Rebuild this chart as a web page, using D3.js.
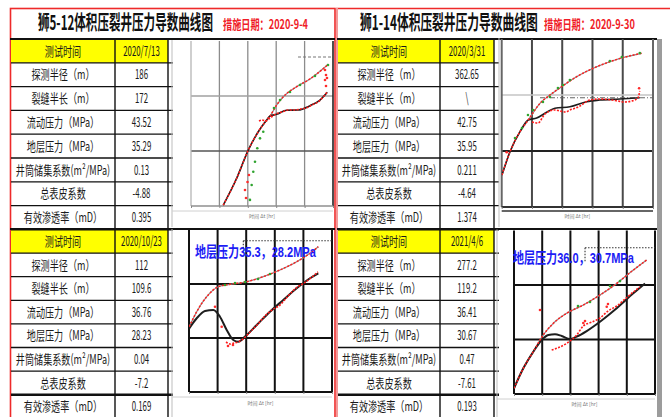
<!DOCTYPE html>
<html><head><meta charset="utf-8">
<script src="https://cdn.jsdelivr.net/npm/d3@7/dist/d3.min.js"></script>
<style>html,body{margin:0;padding:0;background:#fff}svg{display:block}</style>
</head><body>
<svg id="c" width="670" height="417"></svg>
<script>
// ---------------- DATA ----------------
const titles = ["狮5-12体积压裂井压力导数曲线图", "狮1-14体积压裂井压力导数曲线图"];
const measureDates = ["措施日期：2020-9-4", "措施日期：2020-9-30"];
const rowLabels = ["测试时间","探测半径（m）","裂缝半长（m）","流动压力（MPa）","地层压力（MPa）","井筒储集系数(m²/MPa)","总表皮系数","有效渗透率（mD）"];
const valuesTL = ["2020/7/13","186","172","43.52","35.29","0.13","-4.88","0.395"];
const valuesBL = ["2020/10/23","112","109.6","36.76","28.23","0.04","-7.2","0.169"];
const valuesTR = ["2020/3/31","362.65","\\","42.75","35.95","0.211","-4.64","1.374"];
const valuesBR = ["2021/4/6","277.2","119.2","36.41","30.67","0.47","-7.61","0.193"];
const pressureNotes = ["地层压力35.3，28.2MPa", "地层压力36.0，30.7MPa"];
const axisTitle = "时间 Δt [hr]";
const xDecades = [1,10,100,1000,10000,100000];
const yDecades = [1,10,100,1000];

// TL: 狮5-12, 2020/7/13
const tlPTime  = [13.7, 40.6, 104, 234, 462, 605, 1040, 1780, 5270, 15500, 68400];
const tlPModel = [1.04, 3.19, 10.4, 22.4, 36.6, 43.3, 68.6, 97, 148, 204, 377];
const tlDTime  = [13.7, 40.6, 104, 234, 462, 605, 1040, 2340, 6000, 15500, 34800, 63000];
const tlDModel = [1.04, 3.19, 10.4, 22.4, 36.6, 43.3, 46.5, 55, 55.6, 66.7, 84.5, 117];
const tlDDataT = [248, 316, 438, 605, 984, 1600, 2600, 4590, 6900, 11200, 18200, 29600, 48200, 61500];
const tlDData  = [35.1, 36.6, 35.1, 39.8, 47.1, 51.2, 55.6, 55.6, 58.1, 60.5, 68.6, 77.8, 100, 118];
const tlGreenT = [119, 137, 156, 179, 216, 269, 351, 837, 1360, 3060, 6900, 23200, 66700];
const tlGreen  = [1.29, 2.41, 4.2, 6.39, 11.2, 17.0, 22.4, 60.5, 84.6, 118, 158, 231, 366];
const tlRedT   = [79.7, 86.5, 97.6, 110, 52300, 56700, 52300, 56700, 61500];
const tlRed    = [1.95, 1.4, 2.73, 3.66, 297, 241, 195, 152, 212];
const tlLevel  = [5860, 512];

// TR: 狮1-14, 2020/3/31
const trPTime  = [1.02, 1.88, 4.02, 7.55, 18.4, 39.3, 95.5, 299, 1054, 3750, 13340, 41700];
const trPModel = [3.73, 9.72, 22.1, 35.8, 71.1, 100, 141, 212, 300, 393, 483, 556];
const trDTime  = [1.02, 1.88, 4.02, 7.55, 14.3, 30.5, 57.4, 179, 638, 1754, 8020, 36650];
const trDModel = [3.73, 9.72, 22.1, 35.8, 38.8, 49.1, 57.9, 61.8, 75.9, 81.4, 84.8, 89.5];
const trDDataT = [10, 15.8, 26.9, 57.4, 84, 132, 179, 283, 384, 820, 1754, 4365, 6890, 11720, 19950, 31500, 36650];
const trDData  = [32.9, 31.6, 45.8, 54, 51.8, 49.7, 54, 58.6, 63.6, 81.4, 84.8, 81.4, 78.1, 75, 78.1, 88.4, 118];
const trGreenT = [2.75, 4.68, 7.38, 10.8, 23.1, 39.3, 72.1, 105, 179, 3750, 9330, 36650];
const trGreen  = [17.1, 25.7, 43.9, 54, 75, 92.1, 133, 151, 185, 405, 477, 562];
const trRedT   = [1.46, 34750];
const trRed    = [9.48, 132];
const trLevel  = [18.4, 89.5];

// BL: 狮5-12, 2020/10/23
const blPTime  = [1.02, 1.86, 4.16, 10.6, 27.2, 104, 396, 1520, 5830, 17000, 33200];
const blPModel = [16.2, 30.7, 58.2, 89.1, 98.7, 110, 137, 182, 259, 370, 491];
const blDTime  = [1.02, 1.86, 3.63, 7.08, 12.1, 20.8, 35.4, 53, 90.8, 233, 679, 1980, 5830, 17000, 33200];
const blDModel = [15.1, 23.2, 31.6, 33, 24.8, 14.1, 9.18, 8.54, 10.6, 17.4, 30.7, 50.6, 83.2, 128, 158];
const blDDataT = [19.7, 27.2, 37.4, 51.7, 77.3, 136, 259, 454, 798, 1520, 2900, 5510, 10500, 20000, 32400];
const blDData  = [8.43, 7.74, 8.08, 8.43, 9.58, 12.9, 18.2, 25.6, 33, 40.8, 59.9, 84.3, 104, 135, 167];
const blGreenT = [18.1, 40.6, 90.8, 259, 679];
const blGreen  = [95.8, 104, 109, 124, 153];
const blRedT   = [8.11, 13.9, 23.1, 34.5];
const blRed    = [38, 16.2, 7.11, 7.42];
const blLevel  = [79.2, 634, 370];

// BR: 狮1-14, 2021/4/6
const brPTime  = [1.0, 2.14, 4.83, 10.9, 24.8, 73.9, 287, 1122, 4385, 17000, 50800];
const brPModel = [1.27, 2.96, 5.97, 12.1, 19.8, 30.3, 43, 65.6, 107, 188, 288];
const brDTime  = [1.0, 2.14, 4.83, 9.6, 16.5, 28.4, 49.1, 96.8, 167, 378, 1122, 4385, 17000, 44200];
const brDModel = [1.27, 2.96, 5.97, 9.79, 12.1, 12.5, 11.6, 10.2, 11.3, 14.3, 21.2, 37.4, 70.4, 107];
const brDDataT = [21.7, 37.2, 73.9, 167, 287, 583, 1122, 2150, 4385, 8630, 17000, 29400];
const brDData  = [6.42, 7.07, 8.51, 12.1, 17.7, 20.9, 24.8, 33.3, 41.2, 55.3, 74.4, 91.9];
const brGreenT = [186, 495, 2540, 5740];
const brGreen  = [41.2, 48.8, 95.9, 118];
const brRedT   = [8.36, 287, 330, 1940, 2150];
const brRed    = [34.8, 20.1, 21.9, 40, 44.8];
const brLevel  = [330, 483, 268];

// ---------------- DRAW ----------------
const svg = d3.select("#c");
const CJK = '"Noto Sans CJK SC","Noto Sans",sans-serif';
const zip = (a,b) => a.map((v,i)=>[v,b[i]]);

function ctext(g, x, y, t, k, size, opts={}) {
  return g.append("text")
    .attr("transform", `translate(${x},${y}) scale(${k},1)`)
    .attr("text-anchor","middle")
    .attr("font-family", CJK)
    .attr("font-size", size)
    .attr("font-weight", opts.bold ? "bold" : "normal")
    .attr("fill", opts.fill || "#1a1a1a")
    .text(t);
}
// left-anchored text squeezed horizontally to a target width
function fitText(g, x, y, t, width, size, fill, family) {
  const el = g.append("text").attr("x",0).attr("y",0)
    .attr("font-family", family || CJK).attr("font-size", size)
    .attr("font-weight","bold").attr("fill", fill).text(t);
  const nat = el.node().getComputedTextLength() || width;
  el.attr("transform", `translate(${x},${y}) scale(${width/nat},1)`);
  return el;
}

// Panel borders
svg.append("rect").attr("x",10.5).attr("y",8.5).attr("width",324.5).attr("height",420)
  .attr("fill","none").attr("stroke","#ee2a2a").attr("stroke-width",1.6);
svg.append("line").attr("x1",336).attr("x2",670).attr("y1",8.5).attr("y2",8.5)
  .attr("stroke","#ee2a2a").attr("stroke-width",1.6);
svg.append("line").attr("x1",337).attr("x2",337).attr("y1",8).attr("y2",417)
  .attr("stroke","#f29a9a").attr("stroke-width",2);
svg.append("rect").attr("x",657).attr("y",39).attr("width",5).attr("height",378).attr("fill","#9c9c9c");

// Titles
function title(i, x, w, dx, dw) {
  fitText(svg, x, 30, titles[i], w, 20, "#111");
  fitText(svg, dx, 29, measureDates[i], dw, 13, "#f01c28");
}
title(0, 38, 175, 223, 85);
title(1, 360, 178, 544, 91);

// Tables
function table(x0, w1, w2, top, rowH, values, thickLast) {
  const g = svg.append("g");
  const n = rowLabels.length;
  g.append("rect").attr("x",x0).attr("y",top).attr("width",w1+w2).attr("height",rowH).attr("fill","#ffff00");
  rowLabels.forEach((lab,i) => {
    const cy = top + i*rowH + rowH/2 + 4.6;
    ctext(g, x0 + w1/2, cy, lab, 0.7, 13);
    ctext(g, x0 + w1 + w2/2, cy, values[i], 0.58, 13.5);
  });
  for (let i=0;i<=n;i++) {
    const y = top + i*rowH;
    g.append("line").attr("x1",x0).attr("x2",x0+w1+w2+5).attr("y1",y).attr("y2",y)
      .attr("stroke","#111").attr("stroke-width", (thickLast && i===n-1) ? 2.4 : (i===0?2:1.3));
  }
  [x0+w1, x0+w1+w2].forEach(x => g.append("line").attr("x1",x).attr("x2",x)
    .attr("y1",top).attr("y2",Math.min(top+n*rowH,417)).attr("stroke","#111").attr("stroke-width",1.4));
}
table(11, 104, 53, 39, 23.8, valuesTL, false);
table(11, 104, 53, 229.5, 23.6, valuesBL, true);
table(338, 102, 54, 39, 23.8, valuesTR, false);
table(338, 102, 54, 229.5, 23.6, valuesBR, true);

// header/top lines across panels
svg.append("line").attr("x1",10).attr("x2",335).attr("y1",39).attr("y2",39).attr("stroke","#111").attr("stroke-width",2);
svg.append("line").attr("x1",337).attr("x2",657).attr("y1",39).attr("y2",39).attr("stroke","#111").attr("stroke-width",2);
svg.append("line").attr("x1",10).attr("x2",335).attr("y1",229).attr("y2",229).attr("stroke","#111").attr("stroke-width",2);
svg.append("line").attr("x1",337).attr("x2",657).attr("y1",229).attr("y2",229).attr("stroke","#111").attr("stroke-width",2);

const styles = {
  light: {v:"#8c8c8c", vw:1.3, h10:"#555", h10w:1.6, h100:"#a0a0a0", h100w:1.3, left:"#b5b5b5", bottom:"#8f8f8f", bw:1.3, right:"#222", rw:1.6, level:"#777", levelDash:"3,2"},
  mid:   {v:"#4a4a4a", vw:2, h10:"#222", h10w:2, h100:"#c4c4c4", h100w:1.5, left:"#666", bottom:"#333", bw:2, right:"#666", rw:2, level:"#666", levelDash:"5,2,1,2"},
  dark:  {v:"#111", vw:2, h10:"#111", h10w:2, h100:"#111", h100w:2, left:"#111", bottom:"#111", bw:2, right:"#111", rw:2, level:"#333", levelDash:"1.5,1.5"}
};

const charts = [
  {id:"TL", L:191, R:333, T:41, B:206, boxL:172, boxB:227, st:styles.light, labY:218,
   p:[tlPTime,tlPModel], d:[tlDTime,tlDModel], dd:[tlDDataT,tlDData], gr:[tlGreenT,tlGreen], rd:[tlRedT,tlRed], level:tlLevel},
  {id:"TR", L:501.7, R:653, T:39, B:207, boxL:499, boxB:227, st:styles.mid, labY:218, second:true,
   p:[trPTime,trPModel], d:[trDTime,trDModel], dd:[trDDataT,trDData], gr:[trGreenT,trGreen], rd:[trRedT,trRed], level:trLevel},
  {id:"BL", L:189, R:332, T:230, B:392, boxL:172, boxB:417, st:styles.dark, labY:405, note:0, noteX:195, noteY:257,
   p:[blPTime,blPModel], d:[blDTime,blDModel], dd:[blDDataT,blDData], gr:[blGreenT,blGreen], rd:[blRedT,blRed], level:blLevel},
  {id:"BR", L:514, R:655, T:230.5, B:394, boxL:497, boxB:417, st:styles.dark, labY:406, note:1, noteX:513, noteY:263,
   p:[brPTime,brPModel], d:[brDTime,brDModel], dd:[brDDataT,brDData], gr:[brGreenT,brGreen], rd:[brRedT,brRed], level:brLevel}
];

charts.forEach(c => {
  const st = c.st;
  const xs = d3.scaleLog().domain([xDecades[0], xDecades[xDecades.length-1]]).range([c.L, c.R]);
  const ys = d3.scaleLog().domain([yDecades[0], yDecades[yDecades.length-1]]).range([c.B, c.T]);
  const g = svg.append("g");
  g.append("line").attr("x1",c.boxL).attr("x2",c.boxL).attr("y1",c.T-1).attr("y2",c.boxB).attr("stroke","#bdbdbd").attr("stroke-width",1);
  xDecades.slice(1,-1).forEach(v => g.append("line").attr("x1",xs(v)).attr("x2",xs(v)).attr("y1",c.T).attr("y2",c.B)
    .attr("stroke",st.v).attr("stroke-width",st.vw));
  g.append("line").attr("x1",c.L).attr("x2",c.R).attr("y1",ys(10)).attr("y2",ys(10)).attr("stroke",st.h10).attr("stroke-width",st.h10w);
  g.append("line").attr("x1",c.L).attr("x2",c.R).attr("y1",ys(100)).attr("y2",ys(100)).attr("stroke",st.h100).attr("stroke-width",st.h100w);
  g.append("line").attr("x1",c.L).attr("x2",c.L).attr("y1",c.T).attr("y2",c.B).attr("stroke",st.left).attr("stroke-width",st.vw);
  g.append("line").attr("x1",c.R).attr("x2",c.R).attr("y1",c.T).attr("y2",c.B).attr("stroke",st.right).attr("stroke-width",st.rw);
  g.append("line").attr("x1",c.L).attr("x2",c.R).attr("y1",c.B).attr("y2",c.B).attr("stroke",st.bottom).attr("stroke-width",st.bw);
  if (c.second) g.append("line").attr("x1",c.L).attr("x2",c.R).attr("y1",c.B+4).attr("y2",c.B+4).attr("stroke","#333").attr("stroke-width",1.5);
  else g.append("line").attr("x1",c.boxL).attr("x2",c.R).attr("y1",c.B+5).attr("y2",c.B+5).attr("stroke","#d0d0d0").attr("stroke-width",1);
  const ax = g.append("g").attr("transform",`translate(0,${c.B})`)
    .call(d3.axisBottom(xs).tickValues(xDecades).tickSize(2).tickFormat(""));
  ax.select(".domain").remove();
  ax.selectAll("line").attr("stroke","#888");
  g.append("text").attr("x",(c.L+c.R)/2).attr("y",c.labY).attr("text-anchor","middle")
    .attr("font-family",CJK).attr("font-size",5).attr("fill","#777").text(axisTitle);

  const cid = "clip"+c.id;
  svg.append("clipPath").attr("id",cid).append("rect").attr("x",c.L).attr("y",c.T).attr("width",c.R-c.L).attr("height",c.B-c.T);
  const dg = g.append("g").attr("clip-path",`url(#${cid})`);
  const line = d3.line().x(d=>xs(d[0])).y(d=>ys(d[1])).curve(d3.curveMonotoneX);

  const lv = c.level;
  dg.append("line").attr("x1",xs(lv[0])).attr("x2",c.R).attr("y1",ys(lv[1])).attr("y2",ys(lv[1]))
    .attr("stroke",st.level).attr("stroke-width",1.1).attr("stroke-dasharray",st.levelDash);
  if (lv.length>2) dg.append("line").attr("x1",xs(lv[0])).attr("x2",xs(lv[0])).attr("y1",ys(lv[1])).attr("y2",ys(lv[2]))
    .attr("stroke",st.level).attr("stroke-width",1.1).attr("stroke-dasharray",st.levelDash);

  dg.append("path").attr("d",line(zip(c.p[0],c.p[1]))).attr("fill","none").attr("stroke","#8a8a8a").attr("stroke-width",1.2);
  dg.append("path").attr("d",line(zip(c.d[0],c.d[1]))).attr("fill","none").attr("stroke","#1e1e1e").attr("stroke-width",c.st===styles.dark?2:1.6);
  dg.append("path").attr("d",line(zip(c.p[0],c.p[1]))).attr("fill","none").attr("stroke","#ff2020").attr("stroke-width",1.5).attr("stroke-dasharray","2,1.6");
  dg.append("path").attr("d",line(zip(c.dd[0],c.dd[1]))).attr("fill","none").attr("stroke","#ff1a1a").attr("stroke-width",1.6).attr("stroke-dasharray","2,1.4");
  dg.selectAll("circle.g").data(zip(c.gr[0],c.gr[1])).join("circle").attr("class","g")
    .attr("cx",d=>xs(d[0])).attr("cy",d=>ys(d[1])).attr("r",1.3).attr("fill","#2fa32f");
  dg.selectAll("circle.r").data(zip(c.rd[0],c.rd[1])).join("circle").attr("class","r")
    .attr("cx",d=>xs(d[0])).attr("cy",d=>ys(d[1])).attr("r",1.3).attr("fill","#ff2a2a");

  if (c.note !== undefined) {
    fitText(g, c.noteX, c.noteY, pressureNotes[c.note], 121, 15, "#1c1cf5", '"Liberation Sans","Noto Sans CJK SC",sans-serif');
  }
});
</script>
</body></html>
